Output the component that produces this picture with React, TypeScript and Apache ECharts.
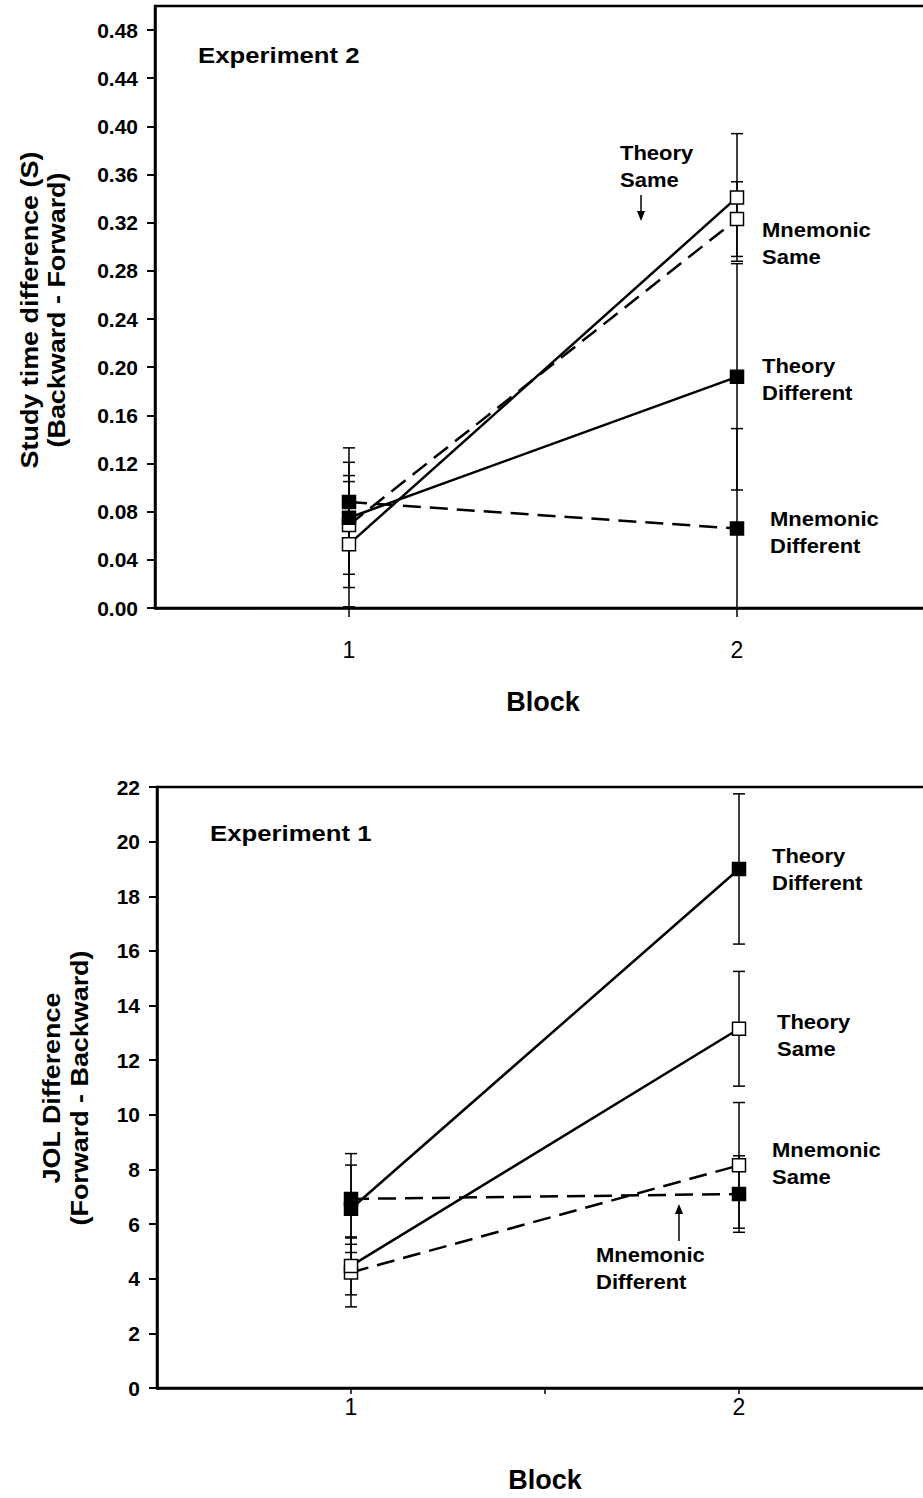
import React, { useEffect, useRef } from "react";
import * as echarts from "echarts";

// ---------- data ----------
const blocks = [1, 2];
const blockLabels = ["1", "2"];

// Experiment 2 (top): study time difference (s)
const e2TheorySame = [0.053, 0.341];
const e2TheorySameErr = [0.052, 0.053];
const e2MnemonicSame = [0.069, 0.323];
const e2MnemonicSameErr = [0.041, 0.031];
const e2TheoryDiff = [0.075, 0.192];
const e2TheoryDiffErr = [0.058, 0.094];
const e2MnemonicDiff = [0.088, 0.066];
const e2MnemonicDiffErr = [0.033, 0.083];
const e2YTicks = [0, 0.04, 0.08, 0.12, 0.16, 0.2, 0.24, 0.28, 0.32, 0.36, 0.4, 0.44, 0.48];

// Experiment 1 (bottom): JOL difference
const e1TheorySame = [4.47, 13.15];
const e1TheorySameErr = [1.06, 2.1];
const e1MnemonicSame = [4.23, 8.15];
const e1MnemonicSameErr = [1.26, 2.3];
const e1TheoryDiff = [6.56, 19.0];
const e1TheoryDiffErr = [1.6, 2.75];
const e1MnemonicDiff = [6.92, 7.1];
const e1MnemonicDiffErr = [1.66, 1.4];
const e1YTicks = [0, 2, 4, 6, 8, 10, 12, 14, 16, 18, 20, 22];

const FONT = '"Liberation Sans", Arial, Helvetica, sans-serif';

function pts(vals: number[]) {
  return blocks.map((b, i) => [b, vals[i]]);
}
function errPts(vals: number[], errs: number[]) {
  return blocks.map((b, i) => [b, vals[i], errs[i]]);
}

function errSeries(idx: number, data: number[][], name: string) {
  return {
    type: "custom",
    name,
    xAxisIndex: idx,
    yAxisIndex: idx,
    clip: true,
    z: 1,
    data,
    renderItem: (params: any, api: any) => {
      const x = api.value(0);
      const y = api.value(1);
      const e = api.value(2);
      const t = api.coord([x, y + e]);
      const b = api.coord([x, y - e]);
      const hw = 6;
      const st = { stroke: "#000", lineWidth: 1.5 };
      return {
        type: "group",
        children: [
          { type: "line", shape: { x1: t[0], y1: t[1], x2: b[0], y2: b[1] }, style: st },
          { type: "line", shape: { x1: t[0] - hw, y1: t[1], x2: t[0] + hw, y2: t[1] }, style: st },
          { type: "line", shape: { x1: b[0] - hw, y1: b[1], x2: b[0] + hw, y2: b[1] }, style: st },
        ],
      };
    },
  };
}

function lineSeries(idx: number, name: string, vals: number[], filled: boolean, dashed: boolean) {
  return {
    type: "line",
    name,
    xAxisIndex: idx,
    yAxisIndex: idx,
    data: pts(vals),
    symbol: "rect",
    symbolSize: 13,
    z: 3,
    itemStyle: { color: filled ? "#000" : "#fff", borderColor: "#000", borderWidth: 1.5 },
    lineStyle: { color: "#000", width: 2.5, type: dashed ? [18, 9] : "solid" },
  };
}

function label(text: string, x: number, y: number, size: number, sx = 1.1) {
  return {
    type: "text",
    x,
    y,
    scaleX: sx,
    z: 10,
    style: {
      text,
      fontFamily: FONT,
      fontWeight: "bold",
      fontSize: size,
      lineHeight: 27,
      fill: "#000",
      align: "left",
      verticalAlign: "middle",
      textAlign: "left",
      textVerticalAlign: "middle",
    },
  };
}

function vtitle(text: string, x: number, y: number) {
  return {
    type: "text",
    x,
    y,
    rotation: Math.PI / 2,
    scaleX: 1.17,
    z: 10,
    style: {
      text,
      fontFamily: FONT,
      fontWeight: "bold",
      fontSize: 23,
      fill: "#000",
      align: "center",
      verticalAlign: "middle",
      textAlign: "center",
      textVerticalAlign: "middle",
    },
  };
}

function arrow(x: number, y1: number, y2: number) {
  const dir = y2 > y1 ? 1 : -1;
  return [
    {
      type: "line",
      z: 10,
      shape: { x1: x, y1, x2: x, y2: y2 - dir * 8 },
      style: { stroke: "#000", lineWidth: 1.5 },
    },
    {
      type: "polygon",
      z: 10,
      shape: { points: [[x - 4, y2 - dir * 10], [x + 4, y2 - dir * 10], [x, y2]] },
      style: { fill: "#000" },
    },
  ];
}

function xAxisDef(idx: number, tickVals: number[], tickLen: number, labelMargin: number, nameGap: number) {
  return {
    type: "value",
    gridIndex: idx,
    min: 0.5,
    max: 2.5,
    interval: 0.5,
    splitLine: { show: false },
    axisLine: { show: true, lineStyle: { color: "#000", width: 2.5 } },
    axisTick: { show: true, customValues: tickVals, length: tickLen, lineStyle: { color: "#000", width: 1.5 } },
    axisLabel: {
      customValues: blocks,
      formatter: (v: number) => blockLabels[blocks.indexOf(Math.round(v))] ?? "",
      fontFamily: FONT,
      fontSize: 23,
      color: "#000",
      margin: labelMargin,
    },
    name: "Block",
    nameLocation: "middle",
    nameGap,
    nameTextStyle: { fontFamily: FONT, fontWeight: "bold", fontSize: 27, color: "#000" },
  };
}

function yAxisDef(idx: number, max: number, interval: number, ticks: number[], digits: number) {
  return {
    type: "value",
    gridIndex: idx,
    min: 0,
    max,
    interval,
    splitLine: { show: false },
    axisLine: { show: true, lineStyle: { color: "#000", width: 2.5 } },
    axisTick: { show: true, customValues: ticks, length: 8, lineStyle: { color: "#000", width: 2 } },
    axisLabel: {
      customValues: ticks,
      formatter: (v: number) => v.toFixed(digits),
      fontFamily: FONT,
      fontWeight: "bold",
      fontSize: 21,
      color: "#000",
      margin: 17,
    },
  };
}

export default function App() {
  const ref = useRef<HTMLDivElement>(null);
  useEffect(() => {
    if (!ref.current) return;
    const chart = echarts.init(ref.current, undefined, { renderer: "svg" });
    chart.setOption({
      animation: false,
      backgroundColor: "#fff",
      grid: [
        { left: 155, top: 6, width: 776, height: 602, show: true, borderColor: "#000", borderWidth: 2.5, backgroundColor: "transparent", containLabel: false, outerBoundsMode: "none" },
        { left: 157, top: 787, width: 776, height: 601, show: true, borderColor: "#000", borderWidth: 2.5, backgroundColor: "transparent", containLabel: false, outerBoundsMode: "none" },
      ],
      xAxis: [xAxisDef(0, [1, 2], 9, 30, 80), xAxisDef(1, [1, 1.5, 2], 6, 7, 78)],
      yAxis: [yAxisDef(0, 0.5, 0.04, e2YTicks, 2), yAxisDef(1, 22, 2, e1YTicks, 0)],
      series: [
        errSeries(0, errPts(e2TheorySame, e2TheorySameErr), "e2 TS err"),
        errSeries(0, errPts(e2MnemonicSame, e2MnemonicSameErr), "e2 MS err"),
        errSeries(0, errPts(e2TheoryDiff, e2TheoryDiffErr), "e2 TD err"),
        errSeries(0, errPts(e2MnemonicDiff, e2MnemonicDiffErr), "e2 MD err"),
        lineSeries(0, "Mnemonic Same", e2MnemonicSame, false, true),
        lineSeries(0, "Theory Same", e2TheorySame, false, false),
        lineSeries(0, "Theory Different", e2TheoryDiff, true, false),
        lineSeries(0, "Mnemonic Different", e2MnemonicDiff, true, true),

        errSeries(1, errPts(e1TheorySame, e1TheorySameErr), "e1 TS err"),
        errSeries(1, errPts(e1MnemonicSame, e1MnemonicSameErr), "e1 MS err"),
        errSeries(1, errPts(e1TheoryDiff, e1TheoryDiffErr), "e1 TD err"),
        errSeries(1, errPts(e1MnemonicDiff, e1MnemonicDiffErr), "e1 MD err"),
        lineSeries(1, "Mnemonic Same", e1MnemonicSame, false, true),
        lineSeries(1, "Theory Same", e1TheorySame, false, false),
        lineSeries(1, "Mnemonic Different", e1MnemonicDiff, true, true),
        lineSeries(1, "Theory Different", e1TheoryDiff, true, false),
      ],
      graphic: [
        vtitle("Study time difference (S)", 30, 310),
        vtitle("(Backward - Forward)", 57, 310),
        vtitle("JOL Difference", 52, 1088),
        vtitle("(Forward - Backward)", 80, 1088),

        label("Experiment 2", 198, 55, 22, 1.17),
        label("Theory\nSame", 620, 166, 20),
        ...arrow(641, 195, 221),
        label("Mnemonic\nSame", 762, 243, 20),
        label("Theory\nDifferent", 762, 379, 20),
        label("Mnemonic\nDifferent", 770, 532, 20),

        label("Experiment 1", 210, 833, 22, 1.17),
        label("Theory\nDifferent", 772, 869, 20),
        label("Theory\nSame", 777, 1035, 20),
        label("Mnemonic\nSame", 772, 1163, 20),
        label("Mnemonic\nDifferent", 596, 1268, 20),
        ...arrow(679, 1241, 1204),
      ],
    });
    return () => chart.dispose();
  }, []);
  return (
    <div style={{ position: "fixed", left: 0, top: 0, width: 923, height: 1498, overflow: "hidden", background: "#fff" }}>
      <div ref={ref} style={{ width: 945, height: 1498 }} />
    </div>
  );
}
